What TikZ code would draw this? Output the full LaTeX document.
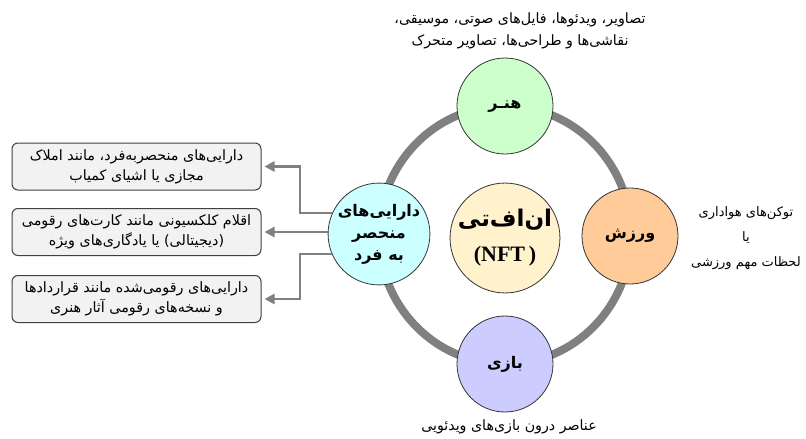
\documentclass[tikz,border=0pt]{standalone}
\usepackage{fontspec}
\usetikzlibrary{arrows.meta}
\TeXXeTstate=1
\newfontfamily\fa[Script=Arabic]{DejaVu Sans}
\newfontfamily\nftfont{Liberation Serif}
\newcommand\fatxt[1]{\beginR #1\endR}
\definecolor{ringgray}{HTML}{808080}
\definecolor{boxgray}{HTML}{F2F2F2}
\definecolor{artgreen}{HTML}{CCFFCC}
\definecolor{sportpeach}{HTML}{FFCC99}
\definecolor{gamelav}{HTML}{CCCCFF}
\definecolor{uniqcyan}{HTML}{CCFFFF}
\definecolor{nftyellow}{HTML}{FFF2CC}
\begin{document}
\begin{tikzpicture}[x=1pt,y=-1pt,
  topic/.style={circle,draw=black!80,line width=0.8pt,minimum size=96pt,inner sep=0pt,align=center,font=\fa\bfseries\fontsize{16}{22}\selectfont},
  infobox/.style={draw=black!75,line width=1pt,rounded corners=6pt,fill=boxgray,minimum width=249pt,minimum height=47pt,inner sep=2pt,align=center,font=\fa\fontsize{14.3}{20}\selectfont},
  note/.style={align=center,font=\fa\fontsize{14.2}{22}\selectfont},
  arr/.style={draw=ringgray,line width=2.6pt,-{Triangle[length=10pt,width=10pt]},shorten >=3pt}
]
\useasboundingbox (0,0) rectangle (806,439);
\fill[white] (0,0) rectangle (806,439);
\draw[ringgray,line width=8pt] (505,235) ellipse [x radius=126pt,y radius=129pt];

\node[topic,fill=artgreen] (art) at (505,106) {\fatxt{هنـر}};
\node[topic,fill=sportpeach] (sport) at (630,236) {\fatxt{ورزش}};
\node[topic,fill=gamelav] (game) at (505,364) {\fatxt{بازی}};
\node[topic,fill=uniqcyan] (uniq) at (379,234) {\fatxt{دارایی‌های}\\\fatxt{منحصر}\\\fatxt{به فرد}};
\node[circle,draw=black!80,line width=0.8pt,fill=nftyellow,minimum size=104pt,inner sep=0pt,align=center] (nft) at (505,238)
  {\fa\bfseries\fontsize{23}{28}\selectfont\fatxt{ان‌اف‌تی}\\[15pt]\nftfont\bfseries\fontsize{22}{24}\selectfont(NFT\,)};

\node[note] (arttext) at (520,31) {\fatxt{تصاویر، ویدئوها، فایل‌های صوتی، موسیقی،}\\\fatxt{نقاشی‌ها و طراحی‌ها، تصاویر متحرک}};
\node[note,font=\fa\fontsize{13}{25}\selectfont] (sporttext) at (746,238) {\fatxt{توکن‌های هواداری}\\\fatxt{یا}\\\fatxt{لحظات مهم ورزشی}};
\node[note] (gametext) at (509,427) {\fatxt{عناصر درون بازی‌های ویدئویی}};

\node[infobox] (b1) at (136.5,166.5) {\fatxt{دارایی‌های منحصربه‌فرد، مانند املاک}\\\fatxt{مجازی یا اشیای کمیاب}};
\node[infobox] (b2) at (136.5,232) {\fatxt{اقلام کلکسیونی مانند کارت‌های رقومی}\\\fatxt{(دیجیتالی) یا یادگاری‌های ویژه}};
\node[infobox] (b3) at (136.5,299) {\fatxt{دارایی‌های رقومی‌شده مانند قراردادها}\\\fatxt{و نسخه‌های رقومی آثار هنری}};

\coordinate (jx) at (300,0);
\draw[arr] (uniq.156) -- (uniq.156 -| jx) |- (b1.east);
\draw[arr] (uniq.west |- b2.east) -- (b2.east);
\draw[arr] (uniq.203) -- (uniq.203 -| jx) |- (b3.east);
\end{tikzpicture}
\end{document}
